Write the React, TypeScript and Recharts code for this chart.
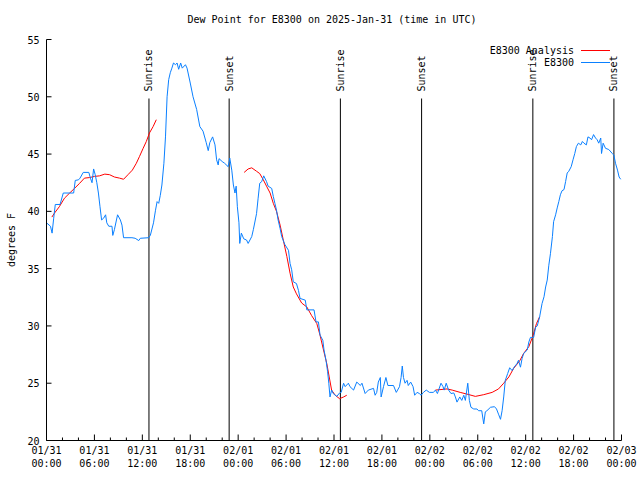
import { LineChart, Line, XAxis, YAxis, ReferenceLine } from 'recharts';

// hours since 2025-01-31 00:00 UTC
const obsHours = [
  0, 0.5, 0.7, 0.9, 1.1, 1.7, 2.1, 3.4, 3.6, 4.0, 4.2, 4.6, 5.3, 5.5, 5.7, 5.9, 6.1, 6.3, 6.5, 6.7,
  6.9, 7.15, 7.4, 7.55, 7.8, 8.2, 8.3, 8.5, 8.9, 9.25, 9.45, 9.65, 10.7, 11.1, 11.55, 11.75, 12.8, 13.0, 13.4, 13.65,
  13.85, 14.05, 14.25, 14.45, 14.7, 14.9, 15.1, 15.3, 15.5, 15.7, 15.9, 16.15, 16.35, 16.55, 16.8, 17.0, 17.4, 17.6, 18.0, 18.35,
  18.8, 19.2, 19.6, 20.0, 20.25, 20.45, 20.8, 21.1, 21.3, 21.5, 21.6, 22.0, 22.3, 22.75, 22.95, 23.2, 23.4, 23.6, 23.75, 23.9,
  24.1, 24.2, 24.4, 24.7, 25.05, 25.25, 25.7, 25.9, 26.3, 26.5, 26.7, 26.95, 27.2, 27.55, 27.75, 28.2, 28.4, 28.6, 28.8, 29.0,
  29.25, 29.45, 29.85, 30.3, 30.5, 30.7, 30.9, 31.3, 31.55, 31.75, 32.4, 32.6, 33.5, 33.75, 34.05, 34.25, 34.6, 34.75, 35.0, 35.2,
  35.35, 35.5, 35.7, 35.9, 36.35, 36.7, 36.9, 37.2, 37.4, 37.8, 38.0, 38.45, 38.85, 39.3, 39.5, 39.9, 40.3, 40.95, 41.15, 41.35,
  41.55, 41.8, 41.9, 42.2, 42.5, 42.75, 43.45, 43.8, 44.2, 44.4, 44.55, 44.7, 44.9, 45.15, 45.3, 45.6, 45.9, 46.1, 46.4, 46.7,
  46.9, 47.2, 47.55, 47.95, 48.45, 48.7, 48.95, 49.4, 49.65, 49.8, 50.05, 50.35, 50.65, 51.0, 51.2, 51.4, 51.75, 52.0, 52.25, 52.45,
  52.75, 52.95, 53.15, 53.5, 53.9, 54.1, 54.5, 54.75, 54.95, 55.15, 55.6, 56.1, 56.35, 56.6, 56.85, 57.05, 57.25, 57.45, 57.75, 58.0,
  58.3, 58.55, 58.9, 59.1, 59.35, 59.55, 59.75, 60.2, 60.4, 60.6, 61.0, 61.25, 61.45, 61.75, 62.05, 62.3, 62.5, 62.7, 62.9, 63.1,
  63.35, 63.5, 63.75, 63.95, 64.15, 64.35, 64.55, 64.8, 65.0, 65.2, 65.4, 65.7, 65.95, 66.15, 66.35, 66.6, 66.9, 67.1, 67.3, 67.6,
  67.8, 68.05, 68.25, 68.5, 68.75, 68.95, 69.15, 69.4, 69.5, 69.7, 70.0, 70.4, 70.85, 71.05, 71.25, 71.5, 71.7, 71.9
];
const obsDewpt = [
  39.0, 38.7, 38.1, 39.4, 40.6, 40.6, 41.6, 41.6, 42.7, 42.75, 42.9, 43.4, 43.4, 42.9, 42.5, 43.7, 43.2, 42.5, 41.6, 40.4,
  39.25, 39.4, 39.7, 39.0, 38.7, 38.7, 37.9, 38.4, 39.7, 39.25, 38.8, 37.7, 37.7, 37.65, 37.45, 37.65, 37.7, 37.9, 39.0, 40.1,
  40.85, 40.7, 41.4, 42.3, 44.2, 46.5, 50.0, 51.5, 52.1, 52.5, 52.95, 52.8, 52.95, 52.4, 52.95, 52.5, 52.8, 52.5, 51.2, 50.0,
  48.9, 47.4, 47.0, 46.0, 45.3, 46.0, 46.5, 45.8, 44.5, 44.05, 44.6, 44.35, 44.2, 43.9, 44.65, 43.6, 42.3, 41.6, 42.2, 40.4,
  39.0, 37.2, 38.1, 37.6, 37.5, 37.2, 37.8, 38.4, 39.8, 41.15, 42.45, 42.6, 43.1, 42.6, 42.2, 42.0, 41.3, 40.7, 40.1, 39.25,
  38.5, 37.8, 37.1, 36.6, 35.45, 34.9, 33.85, 33.7, 33.1, 32.4, 32.25, 31.4, 31.4, 30.35, 30.35, 29.2, 28.75, 27.9, 27.0, 26.0,
  25.0, 23.8, 24.4, 24.1, 23.85, 24.15, 24.2, 25.0, 24.7, 25.0, 24.7, 24.4, 25.1, 24.8, 25.0, 24.1, 24.4, 24.55, 23.95, 24.2,
  25.1, 25.5, 23.8, 24.7, 25.5, 24.8, 24.8, 24.2, 24.7, 25.5, 26.5, 25.5, 25.0, 25.25, 24.8, 25.1, 24.7, 23.95, 24.2, 24.1,
  23.95, 24.2, 24.4, 24.2, 24.2, 24.4, 24.1, 25.0, 24.7, 24.4, 25.0, 24.4, 24.1, 24.15, 23.8, 23.35, 23.8, 23.5, 23.95, 23.5,
  25.0, 23.5, 22.9, 22.75, 22.75, 22.6, 22.6, 21.45, 22.5, 22.6, 22.9, 22.95, 22.75, 22.3, 21.85, 22.6, 23.8, 25.25, 25.85, 26.35,
  26.1, 26.4, 26.7, 27.0, 26.4, 27.15, 27.6, 27.9, 28.6, 29.0, 29.0, 29.9, 30.0, 30.8, 31.95, 32.55, 33.4, 34.0, 35.3, 36.3,
  37.8, 39.1, 39.7, 40.3, 40.85, 41.45, 41.8, 41.9, 42.6, 43.35, 43.5, 43.9, 44.55, 45.05, 45.65, 45.95, 45.8, 46.1, 45.95, 45.8,
  46.5, 46.4, 46.25, 46.7, 46.4, 46.25, 45.95, 46.4, 45.05, 45.95, 45.5, 45.4, 45.05, 44.9, 44.2, 43.6, 43.0, 42.8
];

// analysis has gaps (null)
const anaHours = [
  0.67, 1.0, 1.6, 2.25, 2.9, 3.5, 4.15, 4.75, 5.4, 6.0, 6.65, 7.3, 7.9, 8.5, 9.15, 9.65, 10.2, 10.75, 11.25, 11.65,
  12.1, 12.5, 12.9, 13.35, 13.75, 19,
  24.75, 25.25, 25.7, 26.3, 26.7, 27.15, 27.55, 28.0, 28.4, 28.8, 29.25, 29.65, 30.1, 30.5, 30.9, 31.3, 31.95, 32.6, 33.2, 33.85,
  34.25, 34.65, 35.1, 35.4, 35.7, 36.15, 36.7, 37.2, 37.6, 43,
  48.7, 50.15, 50.8, 51.8, 52.65, 53.7, 54.75, 55.8, 56.6, 57.25, 57.9, 58.5, 59.25, 59.75, 60.4, 60.95, 61.35, 61.75
];
const anaDewpt = [
  39.5, 39.85, 40.4, 41.15, 41.6, 42.0, 42.45, 42.9, 42.95, 43.05, 43.1, 43.25, 43.2, 43.0, 42.9, 42.8, 43.2, 43.6, 44.2, 44.8,
  45.5, 46.1, 46.85, 47.4, 48.0, null,
  43.4, 43.7, 43.8, 43.5, 43.3, 42.75, 42.2, 41.6, 40.7, 40.0, 38.8, 37.5, 36.05, 34.6, 33.4, 32.8, 32.0, 31.65, 30.9, 30.2,
  29.2, 28.0, 26.7, 25.55, 24.4, 23.95, 23.65, 23.8, 23.95, null,
  24.4, 24.5, 24.4, 24.2, 24.05, 23.85, 24.0, 24.2, 24.5, 25.0, 25.55, 26.3, 26.95, 27.6, 28.2, 29.2, 30.2, 30.8
];

const eventHours = [12.83, 22.87, 36.8, 46.97, 60.9, 71.05];
const eventNames = ['Sunrise', 'Sunset', 'Sunrise', 'Sunset', 'Sunrise', 'Sunset'];
const eventLineTop = 49.85;

const xTicks = [0, 2, 4, 6, 8, 10, 12, 14, 16, 18, 20, 22, 24, 26, 28, 30, 32, 34, 36, 38, 40, 42, 44, 46, 48, 50, 52, 54, 56, 58, 60, 62, 64, 66, 68, 70, 72];
const tickDates = ['01/31', '01/31', '01/31', '01/31', '02/01', '02/01', '02/01', '02/01', '02/02', '02/02', '02/02', '02/02', '02/03'];
const tickTimes = ['00:00', '06:00', '12:00', '18:00', '00:00', '06:00', '12:00', '18:00', '00:00', '06:00', '12:00', '18:00', '00:00'];
const yTicks = [20, 25, 30, 35, 40, 45, 50, 55];

const series = [
  { name: 'E8300 Analysis', color: '#ff0000' },
  { name: 'E8300', color: '#0a80ff' }
];

const obsData = obsHours.map((h, i) => ({ h, v: obsDewpt[i] }));
const anaData = anaHours.map((h, i) => ({ h, v: anaDewpt[i] }));

const FONT = '"DejaVu Sans Mono", monospace';

const BottomTick = (props: any) => {
  const { x, y, payload } = props;
  const major = payload.value % 6 === 0;
  const k = payload.value / 6;
  return (
    <g>
      <line x1={x} y1={y} x2={x} y2={y - (major ? 6 : 3)} stroke="#000" />
      {major && (
        <text x={x} textAnchor="middle" fontSize={10} fontFamily={FONT} fill="#000">
          <tspan x={x} y={y + 13}>{tickDates[k]}</tspan>
          <tspan x={x} y={y + 26}>{tickTimes[k]}</tspan>
        </text>
      )}
    </g>
  );
};

const TopTick = (props: any) => {
  const { x, y, payload } = props;
  const major = payload.value % 6 === 0;
  return <line x1={x} y1={y} x2={x} y2={y + (major ? 6 : 3)} stroke="#000" />;
};

const LeftTick = (props: any) => {
  const { x, y, payload } = props;
  return (
    <g>
      <line x1={x} y1={y} x2={x + 5} y2={y} stroke="#000" />
      <text x={x - 7} y={y + 4} textAnchor="end" fontSize={10} fontFamily={FONT} fill="#000">
        {payload.value}
      </text>
    </g>
  );
};

const RightTick = (props: any) => {
  const { x, y } = props;
  return <line x1={x} y1={y} x2={x - 5} y2={y} stroke="#000" />;
};

const eventLabel = (name: string) => (p: any) => {
  const vb = p.viewBox;
  const ty = vb.y - 7;
  return (
    <text
      x={vb.x}
      y={ty}
      transform={`rotate(-90 ${vb.x} ${ty})`}
      dominantBaseline="central"
      fontSize={10}
      fontFamily={FONT}
      fill="#000"
    >
      {name}
    </text>
  );
};

const App = () => {
  return (
    <div style={{ position: 'absolute', left: 0, top: 0, width: 640, height: 480, background: '#fff' }}>
      <LineChart
        width={640}
        height={480}
        margin={{ top: 39.5, right: 18.5, bottom: 9.5, left: 6.5 }}
        style={{ fontFamily: FONT }}
      >
        <XAxis
          xAxisId={0}
          dataKey="h"
          type="number"
          domain={[0, 72]}
          ticks={xTicks}
          interval={0}
          height={30}
          tickSize={0}
          tickMargin={0}
          tickLine={false}
          tick={<BottomTick />}
          axisLine={{ stroke: '#000' }}
        />
        <XAxis
          xAxisId="top"
          orientation="top"
          dataKey="h"
          type="number"
          domain={[0, 72]}
          ticks={xTicks}
          interval={0}
          height={0}
          tickSize={0}
          tickMargin={0}
          tickLine={false}
          tick={<TopTick />}
          axisLine={{ stroke: '#000' }}
        />
        <YAxis
          yAxisId={0}
          type="number"
          domain={[20, 55]}
          ticks={yTicks}
          interval={0}
          width={40}
          tickSize={0}
          tickMargin={0}
          tickLine={false}
          tick={<LeftTick />}
          axisLine={{ stroke: '#000' }}
        />
        <YAxis
          yAxisId="right"
          orientation="right"
          type="number"
          domain={[20, 55]}
          ticks={yTicks}
          interval={0}
          width={0}
          tickSize={0}
          tickMargin={0}
          tickLine={false}
          tick={<RightTick />}
          axisLine={{ stroke: '#000' }}
        />
        {eventHours.map((h, i) => (
          <ReferenceLine
            key={i}
            segment={[{ x: h, y: eventLineTop }, { x: h, y: 20 }]}
            stroke="#000"
            strokeWidth={1}
            label={eventLabel(eventNames[i])}
          />
        ))}
        <Line
          data={anaData}
          dataKey="v"
          name={series[0].name}
          type="linear"
          stroke={series[0].color}
          strokeWidth={1}
          dot={false}
          connectNulls={false}
          isAnimationActive={false}
        />
        <Line
          data={obsData}
          dataKey="v"
          name={series[1].name}
          type="linear"
          stroke={series[1].color}
          strokeWidth={1}
          dot={false}
          isAnimationActive={false}
        />
      </LineChart>
      <svg
        width={640}
        height={480}
        style={{ position: 'absolute', left: 0, top: 0, pointerEvents: 'none' }}
        fontFamily={FONT}
        fontSize={10}
      >
        <text x={332} y={23} textAnchor="middle" fill="#000">
          Dew Point for E8300 on 2025-Jan-31 (time in UTC)
        </text>
        <text x={11} y={240} transform="rotate(-90 11 240)" textAnchor="middle" dominantBaseline="central" fill="#000">
          degrees F
        </text>
        {series.map((s, i) => (
          <g key={s.name}>
            <text x={574} y={54 + i * 12} textAnchor="end" fill="#000">
              {s.name}
            </text>
            <line x1={581} x2={610} y1={50.5 + i * 12} y2={50.5 + i * 12} stroke={s.color} />
          </g>
        ))}
      </svg>
    </div>
  );
};

export default App;
